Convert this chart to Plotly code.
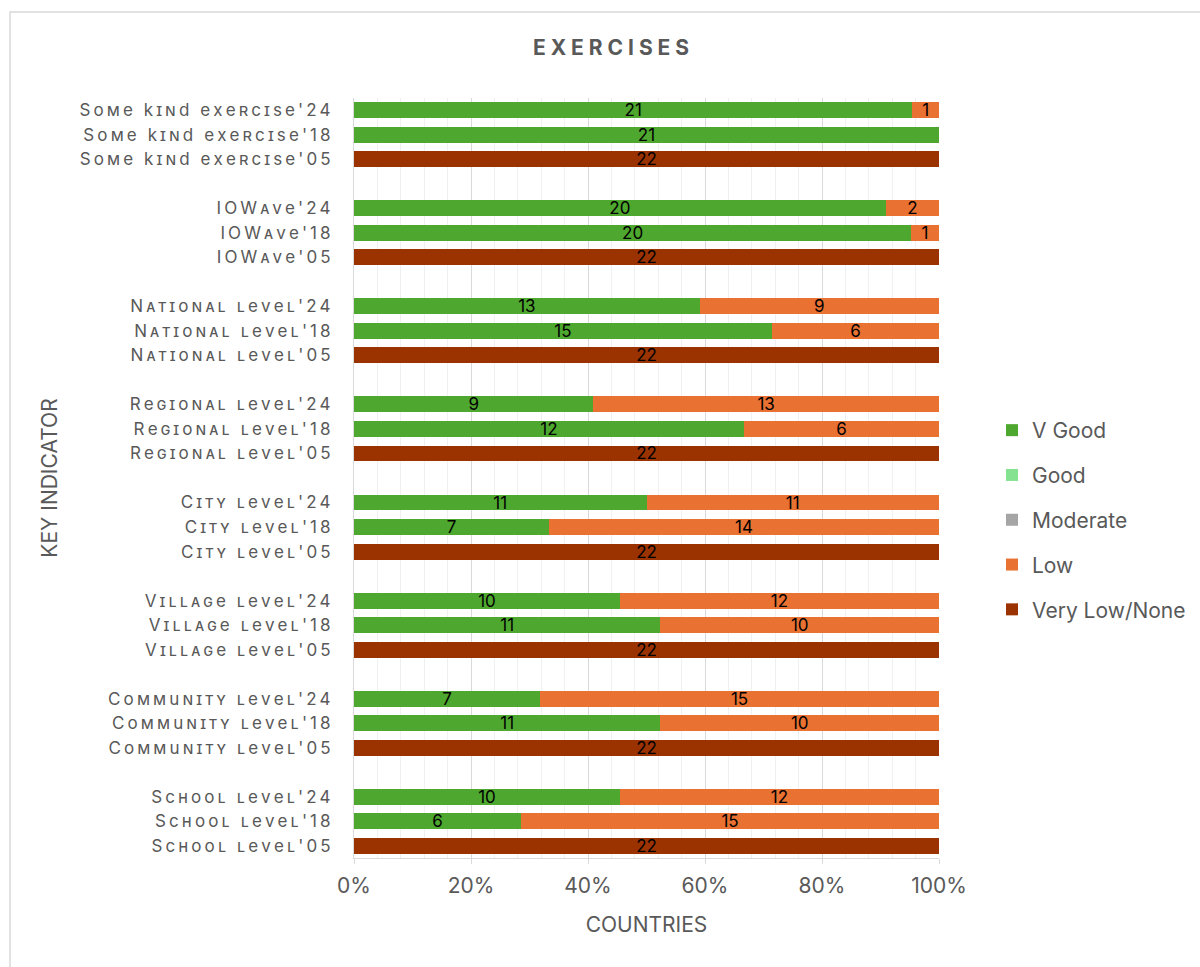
import plotly.graph_objects as go

# Indicators (top to bottom as listed) and the survey years shown for each
indicators = [
    "Some kind exercise",
    "IOWave",
    "National level",
    "Regional level",
    "City level",
    "Village level",
    "Community level",
    "School level",
]
years = ["24", "18", "05"]

# Number of countries per rating, keyed by indicator, in year order '24, '18, '05
v_good = {
    "Some kind exercise": [21, 21, 0],
    "IOWave": [20, 20, 0],
    "National level": [13, 15, 0],
    "Regional level": [9, 12, 0],
    "City level": [11, 7, 0],
    "Village level": [10, 11, 0],
    "Community level": [7, 11, 0],
    "School level": [10, 6, 0],
}
good = {k: [0, 0, 0] for k in indicators}
moderate = {k: [0, 0, 0] for k in indicators}
low = {
    "Some kind exercise": [1, 0, 0],
    "IOWave": [2, 1, 0],
    "National level": [9, 6, 0],
    "Regional level": [13, 6, 0],
    "City level": [11, 14, 0],
    "Village level": [12, 10, 0],
    "Community level": [15, 10, 0],
    "School level": [12, 15, 0],
}
very_low = {k: [0, 0, 22] for k in indicators}

series = [
    ("V Good", v_good, "#4EA72E"),
    ("Good", good, "#84E291"),
    ("Moderate", moderate, "#A5A5A5"),
    ("Low", low, "#E97132"),
    ("Very Low/None", very_low, "#9A3300"),
]


def spaced(s, gap="\u2009"):
    """Letter-spaced version of a label (thin space between characters)."""
    return gap.join(s)


# Build the category axis bottom-up, with a blank spacer row between indicator groups
categories = []
ticktext = []
index = []  # (indicator, year position) per category, None for spacers
for gi, ind in enumerate(reversed(indicators)):
    if gi > 0:
        categories.append(" " * gi)
        ticktext.append("")
        index.append(None)
    for yi in reversed(range(len(years))):
        label = f"{ind}'{years[yi]}"
        categories.append(label)
        ticktext.append(spaced(label))
        index.append((ind, yi))

fig = go.Figure()
for name, data, color in series:
    xs, txt = [], []
    for ref in index:
        if ref is None:
            xs.append(None)
            txt.append("")
        else:
            v = data[ref[0]][ref[1]]
            xs.append(v)
            txt.append(str(v) if v else "")
    fig.add_trace(go.Bar(
        name=name, y=categories, x=xs, orientation="h",
        marker=dict(color=color, line=dict(width=0)),
        text=txt, textposition="inside", insidetextanchor="middle",
        textangle=0, textfont=dict(family="Inter", size=17, color="#000000"),
        legendgroup=name, hoverinfo="skip",
    ))

L, R, T, B = 354, 939, 98, 858
W, H = 1200, 967
pw, ph = R - L, B - T

fig.update_layout(
    width=W, height=H,
    margin=dict(l=L, r=W - R, t=T, b=H - B, autoexpand=False),
    barmode="stack", barnorm="percent", bargap=0.35,
    plot_bgcolor="white", paper_bgcolor="white",
    uniformtext=dict(minsize=17, mode="show"),
    title=dict(
        text="<b>" + spaced("EXERCISES", "\u2009\u200a") + "</b>",
        x=611 / W, xref="container", xanchor="center",
        y=1 - 48 / H, yref="container", yanchor="middle",
        font=dict(family="Inter", size=21, color="#595959"),
    ),
    legend=dict(
        x=(992 - L) / pw, xanchor="left", y=(B - 410) / ph, yanchor="top",
        font=dict(family="Inter", size=21, color="#595959"),
        traceorder="grouped", tracegroupgap=14.5, bgcolor="rgba(0,0,0,0)",
    ),
    xaxis=dict(
        range=[0, 100], tickvals=[0, 20, 40, 60, 80, 100],
        ticktext=["0%", "20%", "40%", "60%", "80%", "100%"],
        showgrid=True, gridcolor="#D9D9D9", gridwidth=1,
        minor=dict(dtick=4, showgrid=True, gridcolor="#F0F0F0", gridwidth=1),
        showline=True, linecolor="#D9D9D9", linewidth=1,
        ticks="outside", ticklen=5, tickcolor="#D9D9D9", ticklabelstandoff=4,
        tickfont=dict(family="Inter", size=21, color="#595959"),
        title=dict(text="COUNTRIES", standoff=20,
                   font=dict(family="Inter", size=21, color="#595959")),
        zeroline=False, fixedrange=True,
    ),
    yaxis=dict(
        type="category", categoryorder="array", categoryarray=categories,
        tickmode="array", tickvals=categories, ticktext=ticktext,
        showgrid=False, showline=True, linecolor="#D9D9D9", linewidth=1,
        ticks="", ticklabelstandoff=19,
        tickfont=dict(family="Inter", size=17, color="#595959", variant="small-caps"),
        title=dict(text="KEY INDICATOR", standoff=16,
                   font=dict(family="Inter", size=21, color="#595959")),
        fixedrange=True,
    ),
    showlegend=True,
)

# Light frame around the chart area
fig.add_shape(
    type="rect", xref="paper", yref="paper",
    x0=(10 - L) / pw, x1=(W + 5 - L) / pw,
    y0=(B - (H + 5)) / ph, y1=(B - 12) / ph,
    line=dict(color="#D9D9D9", width=1.5), fillcolor="rgba(0,0,0,0)", layer="below",
)

fig.write_html("out.html")
